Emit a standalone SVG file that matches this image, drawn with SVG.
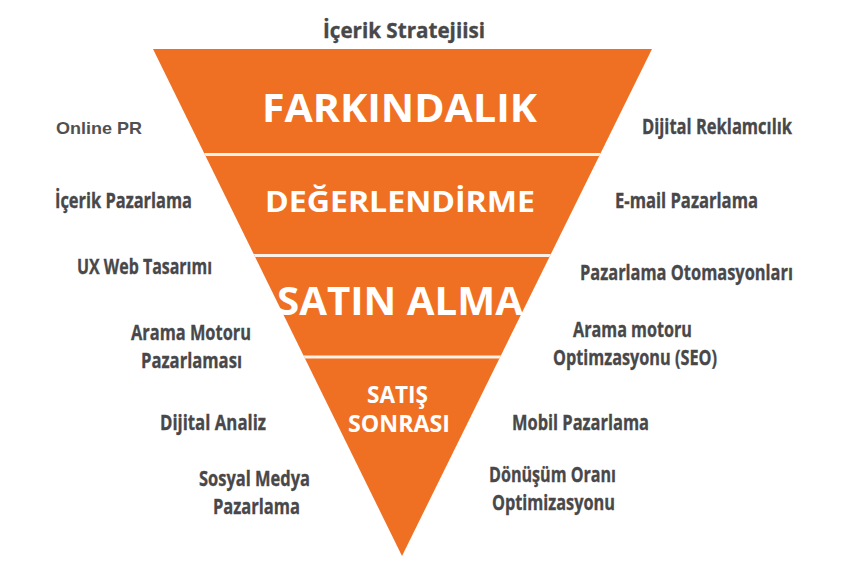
<svg xmlns="http://www.w3.org/2000/svg" width="850" height="570" viewBox="0 0 850 570">
<style>
.lbl{font-family:"Open Sans","DejaVu Sans",sans-serif;font-weight:700;font-size:22px;fill:#48484a;stroke:#48484a;stroke-width:0.35}
.pr{font-family:"Liberation Sans",Arial,sans-serif;font-weight:700;font-size:17px;fill:#505052}
.stage{font-family:"Open Sans","DejaVu Sans",sans-serif;font-weight:700;fill:#ffffff}
.sep{stroke:#fdf0e6;stroke-width:3}
</style>
<defs>
<clipPath id="fclip"><polygon points="153,49 652,49 402,556"/></clipPath>
</defs>
<rect width="850" height="570" fill="#ffffff"/>
<g id="funnel">
<polygon points="153,49 652,49 402,556" fill="#f07023"/>
</g>
<g id="connectors" clip-path="url(#fclip)">
<line class="sep" x1="150" y1="154.5" x2="655" y2="154.5"/>
<line class="sep" x1="150" y1="255.5" x2="655" y2="255.5"/>
<line class="sep" x1="150" y1="357" x2="655" y2="357"/>
</g>
<g id="title"><text class="lbl" x="323" y="38" textLength="162" lengthAdjust="spacingAndGlyphs">İçerik Stratejiisi</text></g>
<g id="stage-farkindalik"><text class="stage" x="262" y="122" font-size="40" textLength="275" lengthAdjust="spacingAndGlyphs">FARKINDALIK</text></g>
<g id="stage-degerlendirme"><text class="stage" x="265" y="212" font-size="29" textLength="270" lengthAdjust="spacingAndGlyphs">DEĞERLENDİRME</text></g>
<g id="stage-satin-alma"><text class="stage" x="277" y="315" font-size="39" textLength="246" lengthAdjust="spacingAndGlyphs">SATIN ALMA</text></g>
<g id="stage-satis-sonrasi">
<text class="stage" x="367" y="403" font-size="24" textLength="61" lengthAdjust="spacingAndGlyphs">SATIŞ</text>
<text class="stage" x="348" y="432" font-size="24" textLength="102" lengthAdjust="spacingAndGlyphs">SONRASI</text>
</g>
<g id="left-online-pr"><text class="pr" x="56" y="134" textLength="86" lengthAdjust="spacingAndGlyphs">Online PR</text></g>
<g id="left-icerik"><text class="lbl" x="55" y="208" textLength="137" lengthAdjust="spacingAndGlyphs">İçerik Pazarlama</text></g>
<g id="left-ux"><text class="lbl" x="77" y="274" textLength="135" lengthAdjust="spacingAndGlyphs">UX Web Tasarımı</text></g>
<g id="left-arama">
<text class="lbl" x="131" y="340" textLength="120" lengthAdjust="spacingAndGlyphs">Arama Motoru</text>
<text class="lbl" x="141" y="368" textLength="101" lengthAdjust="spacingAndGlyphs">Pazarlaması</text>
</g>
<g id="left-analiz"><text class="lbl" x="160" y="430" textLength="106" lengthAdjust="spacingAndGlyphs">Dijital Analiz</text></g>
<g id="left-sosyal">
<text class="lbl" x="199" y="486" textLength="111" lengthAdjust="spacingAndGlyphs">Sosyal Medya</text>
<text class="lbl" x="213" y="514" textLength="87" lengthAdjust="spacingAndGlyphs">Pazarlama</text>
</g>
<g id="right-reklam"><text class="lbl" x="642" y="134" textLength="150" lengthAdjust="spacingAndGlyphs">Dijital Reklamcılık</text></g>
<g id="right-email"><text class="lbl" x="615" y="208" textLength="143" lengthAdjust="spacingAndGlyphs">E-mail Pazarlama</text></g>
<g id="right-otomasyon"><text class="lbl" x="580" y="280" textLength="213" lengthAdjust="spacingAndGlyphs">Pazarlama Otomasyonları</text></g>
<g id="right-seo">
<text class="lbl" x="573" y="337" textLength="119" lengthAdjust="spacingAndGlyphs">Arama motoru</text>
<text class="lbl" x="553" y="365" textLength="164" lengthAdjust="spacingAndGlyphs">Optimzasyonu (SEO)</text>
</g>
<g id="right-mobil"><text class="lbl" x="512" y="430" textLength="137" lengthAdjust="spacingAndGlyphs">Mobil Pazarlama</text></g>
<g id="right-donusum">
<text class="lbl" x="489" y="482" textLength="127" lengthAdjust="spacingAndGlyphs">Dönüşüm Oranı</text>
<text class="lbl" x="492" y="510" textLength="123" lengthAdjust="spacingAndGlyphs">Optimizasyonu</text>
</g>
</svg>
